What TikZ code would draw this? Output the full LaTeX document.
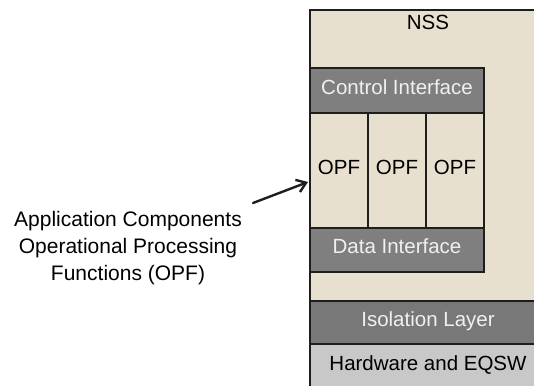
\documentclass[tikz,border=0pt]{standalone}
\usepackage{fontspec}
\setmainfont{Liberation Sans}
\usepackage{xcolor}
\usetikzlibrary{positioning,arrows.meta}
\definecolor{nssbeige}{HTML}{E8E0CE}
\definecolor{ifgray}{HTML}{7F7F7F}
\definecolor{isogray}{HTML}{787878}
\definecolor{hwgray}{HTML}{C8C8C8}
\definecolor{edgeblack}{HTML}{1E1E1E}
\definecolor{lighttext}{HTML}{F0F0F0}

\begin{document}
\begin{tikzpicture}[x=1pt,y=-1pt,node distance=0pt,
		caption/.style={inner sep=0pt,outer sep=0pt,text height=15pt,text depth=8pt,font=\fontsize{20.5}{25}\selectfont},
		box/.style={caption,rectangle,draw=edgeblack,line width=1.8pt},
		layer/.style={box,minimum width=236pt},
		iface/.style={box,fill=ifgray,text=lighttext,minimum width=174pt,minimum height=44pt},
		opfbox/.style={box,fill=nssbeige,minimum width=58pt,minimum height=115pt},
		pointer/.style={-{Straight Barb[length=9pt,width=13pt]},line width=2.4pt,line cap=round}]
		\useasboundingbox (0,0) rectangle (534,385);
		\node[layer,fill=nssbeige,minimum height=291pt,anchor=north west] (nss) at (310,10) {};
		\node[caption,below=5pt of nss.north] (nsstitle) {NSS};
		\node[iface,minimum height=45pt,anchor=north west] (ctrl) at (310,68) {Control Interface};
		\node[opfbox,anchor=north west] (opf1) at (ctrl.south west) {OPF};
		\node[opfbox,right=of opf1] (opf2) {OPF};
		\node[opfbox,right=of opf2] (opf3) {OPF};
		\node[iface,anchor=north west] (data) at (opf1.south west) {Data Interface};
		\node[layer,fill=isogray,text=lighttext,minimum height=43pt,below=of nss] (iso) {Isolation Layer};
		\node[layer,fill=hwgray,minimum height=50pt,below=of iso] (hw) {};
		\node[caption,below=11pt of hw.north] (hwtitle) {Hardware and EQSW};
		\node[align=center,inner sep=0pt,anchor=north,font=\fontsize{21}{27}\selectfont] (apptext) at (128,211)
			{Application Components\\Operational Processing\\Functions (OPF)};
		\coordinate (tail) at (253,203);
		\coordinate (head) at (308,182);
		\draw[pointer,edgeblack] (tail) -- (head);
\end{tikzpicture}
\end{document}
